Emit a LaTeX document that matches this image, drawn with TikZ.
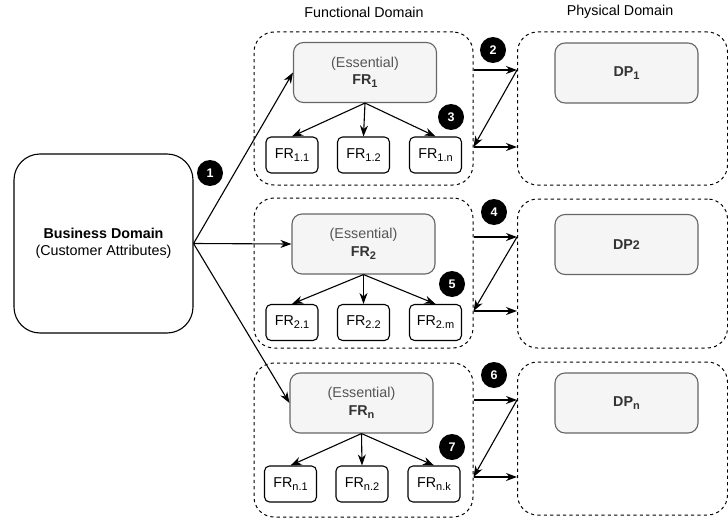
\documentclass[tikz,border=0pt]{standalone}
\usepackage{fontspec}
\setmainfont{Liberation Sans}
\usetikzlibrary{arrows.meta}
\definecolor{essfill}{HTML}{F5F5F5}
\definecolor{essdraw}{HTML}{666666}
\definecolor{esstext}{HTML}{333333}
\definecolor{esslight}{HTML}{555555}
\newcommand\lowsub[1]{\raisebox{-0.4ex}{\fontsize{11}{12}\selectfont #1}}
\begin{document}
\begin{tikzpicture}[x=1pt,y=-1pt,
  font=\fontsize{14.3}{17.5}\selectfont,
  domainbox/.style={draw, dash pattern=on 3.2pt off 3.2pt, rounded corners=20pt, line width=1pt, inner sep=0pt},
  bizbox/.style={draw, rounded corners=26pt, line width=1.1pt, align=center, minimum width=179pt, minimum height=179pt, inner sep=0pt},
  essbox/.style={draw=essdraw, fill=essfill, rounded corners=10pt, line width=1.1pt, align=center, minimum width=143pt, minimum height=60pt, inner sep=0pt, text=esstext},
  subbox/.style={draw, fill=white, rounded corners=5pt, line width=1.1pt, minimum width=52pt, minimum height=36pt, inner sep=0pt},
  badge/.style={circle, fill=black, text=white, font=\fontsize{12.5}{12.5}\selectfont\bfseries, minimum size=26pt, inner sep=0pt},
  arr/.style={-{Stealth[length=11pt,width=8pt,inset=3.5pt]}, line width=1.1pt},
  title/.style={font=\fontsize{14.3}{16}\selectfont}
]
\useasboundingbox (0,0) rectangle (728,519);

% titles
\node[title] (tf) at (364,12) {Functional Domain};
\node[title] (tp) at (620,12) {Physical Domain};

% domain containers
\node[domainbox, minimum width=219pt, minimum height=153pt] (fd1) at (363.5,108.5) {};
\node[domainbox, minimum width=219pt, minimum height=150pt] (fd2) at (363.5,273) {};
\node[domainbox, minimum width=219pt, minimum height=154pt] (fd3) at (363.5,440) {};
\node[domainbox, minimum width=210pt, minimum height=153pt] (pd1) at (622.5,108.5) {};
\node[domainbox, minimum width=210pt, minimum height=149pt] (pd2) at (622.5,273.5) {};
\node[domainbox, minimum width=210pt, minimum height=153pt] (pd3) at (622.5,438.5) {};

% business domain
\node[bizbox] (bd) at (103.5,243.5) {\textbf{Business Domain}\\(Customer Attributes)};

% essential FRs
\node[essbox] (fr1) at (365,72.5) {\textcolor{esslight}{(Essential)}\\\textbf{FR\lowsub{1}}};
\node[essbox] (fr2) at (363.5,244) {\textcolor{esslight}{(Essential)}\\\textbf{FR\lowsub{2}}};
\node[essbox] (frn) at (361.5,403) {\textcolor{esslight}{(Essential)}\\\textbf{FR\lowsub{n}}};

% DPs
\node[essbox] (dp1) at (626.5,73) {\textbf{DP\lowsub{\bfseries 1}}};
\node[essbox] (dp2) at (626.5,244.5) {\textbf{DP\fontsize{12.5}{12.5}\selectfont 2}};
\node[essbox] (dpn) at (626.5,403) {\textbf{DP\lowsub{\bfseries n}}};

% sub FRs
\node[subbox] (fr11) at (292,155) {FR\lowsub{1.1}};
\node[subbox] (fr12) at (363.5,155) {FR\lowsub{1.2}};
\node[subbox] (fr1n) at (435.5,155) {FR\lowsub{1.n}};
\node[subbox] (fr21) at (292,322.5) {FR\lowsub{2.1}};
\node[subbox] (fr22) at (363.5,322.5) {FR\lowsub{2.2}};
\node[subbox] (fr2m) at (435.5,322.5) {FR\lowsub{2.m}};
\node[subbox] (frn1) at (290.5,484) {FR\lowsub{n.1}};
\node[subbox] (frn2) at (362,484) {FR\lowsub{n.2}};
\node[subbox] (frnk) at (434,484) {FR\lowsub{n.k}};

% badges
\node[badge] (b1) at (210,173) {1};
\node[badge] (b2) at (493,50) {2};
\node[badge] (b3) at (451,117) {3};
\node[badge] (b4) at (494,212) {4};
\node[badge] (b5) at (452,284) {5};
\node[badge] (b6) at (494,375) {6};
\node[badge] (b7) at (452,447) {7};

% business -> essential
\draw[arr] (bd.east) -- (fr1.west);
\draw[arr] (bd.east) -- (fr2.west);
\draw[arr] (bd.east) -- (frn.west);

% essential -> sub
\draw[arr] (fr1.south) -- (fr11.north);
\draw[arr] (fr1.south) -- (fr12.north);
\draw[arr] (fr1.south) -- (fr1n.north);
\draw[arr] (fr2.south) -- (fr21.north);
\draw[arr] (fr2.south) -- (fr22.north);
\draw[arr] (fr2.south) -- (fr2m.north);
\draw[arr] (frn.south) -- (frn1.north);
\draw[arr] (frn.south) -- (frn2.north);
\draw[arr] (frn.south) -- (frnk.north);

% zig-zag between domains
\coordinate (a1) at (fd1.east |- 0,70);
\coordinate (c1) at (pd1.west |- 0,70);
\coordinate (d1) at (fd1.east |- 0,147);
\coordinate (e1) at (pd1.west |- 0,147);
\coordinate (a2) at (fd2.east |- 0,237);
\coordinate (c2) at (pd2.west |- 0,237);
\coordinate (d2) at (fd2.east |- 0,311);
\coordinate (e2) at (pd2.west |- 0,311);
\coordinate (a3) at (fd3.east |- 0,400);
\coordinate (c3) at (pd3.west |- 0,400);
\coordinate (d3) at (fd3.east |- 0,477);
\coordinate (e3) at (pd3.west |- 0,477);
\foreach \i in {1,2,3}{
  \draw[arr] (a\i) -- (c\i);
  \draw[arr] (c\i) -- (d\i);
  \draw[arr] (d\i) -- (e\i);
}
\end{tikzpicture}
\end{document}
